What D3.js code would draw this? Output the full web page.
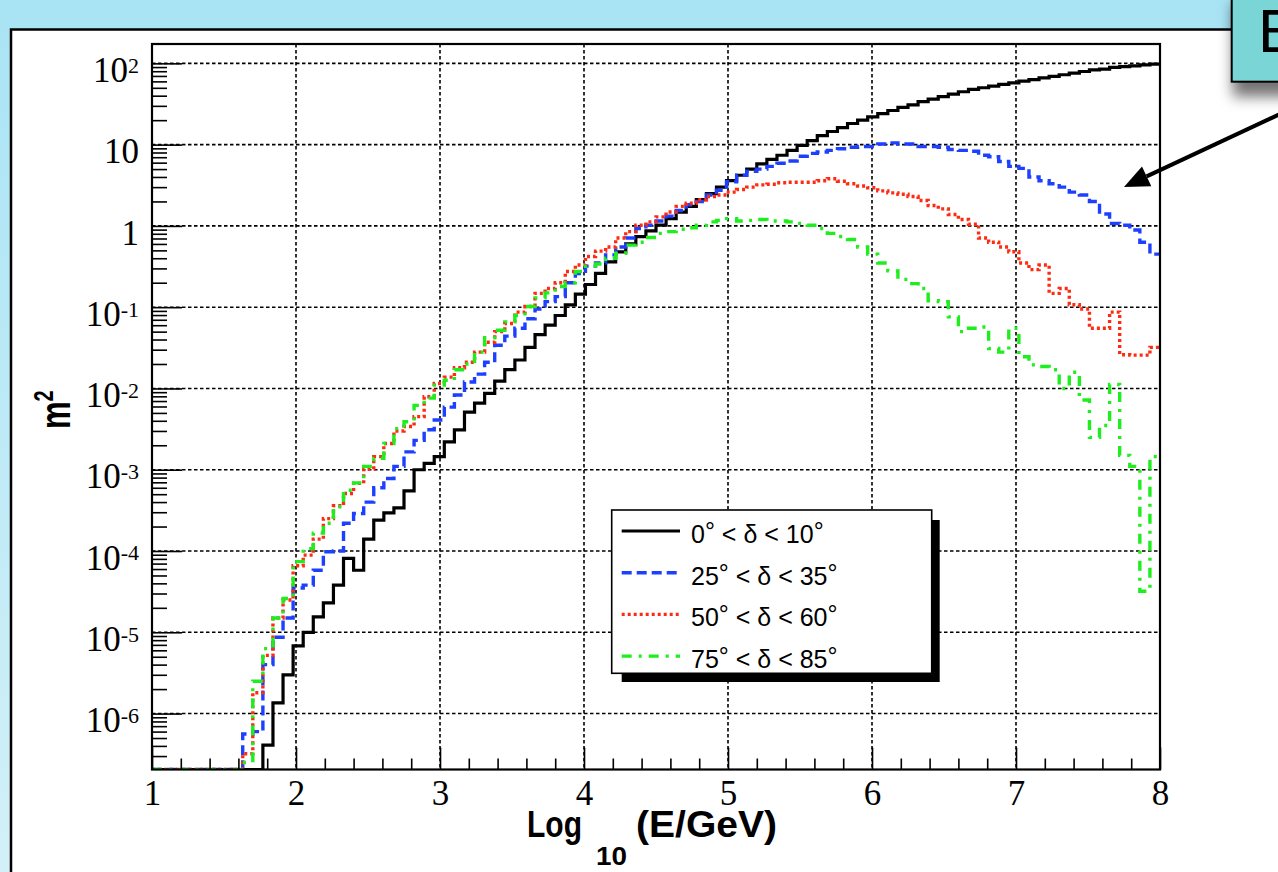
<!DOCTYPE html>
<html>
<head>
<meta charset="utf-8">
<script src="https://cdn.jsdelivr.net/npm/d3@7/dist/d3.min.js"></script>
<style>
html, body { margin: 0; padding: 0; background: #ffffff; overflow: hidden; }
svg { display: block; }
</style>
</head>
<body>
<svg id="chart" width="1278" height="872"></svg>
<script>
// Binning: 100 bins of 0.07 in log10(E/GeV), from 1 to 8
const binStart = 1;
const binWidth = 0.07;

// Effective area (m^2) per energy bin, one array per declination band
const areaDec0to10 = [
  0, 0, 0, 0, 0, 0, 0, 0, 0, 0,
  0, 4.1e-7, 1.35e-6, 3.0e-6, 6.8e-6, 1.0e-5, 1.55e-5, 2.3e-5, 3.8e-5, 8.1e-5,
  5.8e-5, 1.4e-4, 2.4e-4, 2.95e-4, 3.4e-4, 5.5e-4, 1.0e-3, 1.2e-3, 1.45e-3, 2.2e-3,
  3.1e-3, 5.1e-3, 6.6e-3, 8.7e-3, 1.23e-2, 1.7e-2, 2.24e-2, 3.2e-2, 4.6e-2, 6.0e-2,
  7.9e-2, 0.107, 0.145, 0.19, 0.26, 0.36, 0.48, 0.60, 0.74, 0.87,
  1.02, 1.23, 1.48, 1.74, 2.1, 2.5, 3.0, 3.6, 4.2, 5.0,
  5.8, 6.6, 7.4, 8.5, 9.8, 11.2, 12.9, 14.5, 16.2, 18.2,
  20.0, 21.9, 24.0, 26.3, 28.8, 30.9, 33.9, 36.3, 38.9, 41.7,
  44.7, 47.9, 50.1, 52.5, 55.0, 57.5, 60.3, 63.1, 66.1, 69.2,
  72.4, 75.9, 79.4, 83.2, 85.1, 89.1, 91.2, 93.3, 95.5, 97.7
];
const areaDec25to35 = [
  0, 0, 0, 0, 0, 0, 0, 0, 0, 5.6e-7,
  6.0e-7, 4.0e-6, 8.7e-6, 1.5e-5, 3.5e-5, 3.8e-5, 5.8e-5, 9.8e-5, 1.0e-4, 2.2e-4,
  2.9e-4, 4.0e-4, 6.0e-4, 7.8e-4, 1.1e-3, 1.66e-3, 2.3e-3, 3.1e-3, 4.1e-3, 5.9e-3,
  8.3e-3, 1.2e-2, 1.5e-2, 2.1e-2, 3.4e-2, 4.4e-2, 5.5e-2, 7.2e-2, 9.5e-2, 0.117,
  0.135, 0.20, 0.26, 0.32, 0.35, 0.44, 0.55, 0.71, 0.93, 1.02,
  1.15, 1.32, 1.55, 1.82, 2.0, 2.4, 2.75, 3.5, 4.2, 4.7,
  5.0, 5.4, 5.9, 6.3, 7.2, 7.8, 8.1, 8.5, 8.9, 9.3,
  9.5, 9.5, 10.2, 10.5, 10.2, 10.2, 9.5, 9.5, 9.3, 8.7,
  8.5, 8.3, 7.4, 7.1, 6.2, 5.4, 5.1, 4.0, 3.6, 3.3,
  3.0, 2.6, 2.4, 2.0, 1.4, 1.07, 1.02, 0.89, 0.63, 0.45
];
const areaDec50to60 = [
  0, 0, 0, 0, 0, 0, 0, 0, 0, 3.2e-7,
  1.8e-6, 5.2e-6, 1.5e-5, 2.5e-5, 6.6e-5, 8.9e-5, 1.4e-4, 2.5e-4, 3.6e-4, 5.1e-4,
  6.8e-4, 1.02e-3, 1.45e-3, 2.1e-3, 3.0e-3, 3.4e-3, 4.5e-3, 7.9e-3, 1.15e-2, 1.38e-2,
  1.8e-2, 2.1e-2, 2.8e-2, 3.7e-2, 5.0e-2, 6.3e-2, 8.7e-2, 0.102, 0.148, 0.17,
  0.20, 0.275, 0.33, 0.42, 0.49, 0.55, 0.71, 0.85, 1.02, 1.12,
  1.29, 1.48, 1.74, 1.9, 2.1, 2.3, 2.4, 2.6, 2.8, 3.0,
  3.2, 3.25, 3.4, 3.45, 3.45, 3.45, 3.6, 3.8, 3.55, 3.3,
  3.1, 2.95, 2.7, 2.55, 2.45, 2.3, 2.05, 1.78, 1.62, 1.38,
  1.2, 1.05, 0.71, 0.63, 0.55, 0.48, 0.35, 0.29, 0.33, 0.148,
  0.17, 0.107, 0.095, 0.055, 0.055, 0.087, 0.026, 0.0257, 0.0257, 0.032
];
const areaDec75to85 = [
  0, 0, 0, 0, 0, 0, 0, 0, 0, 2.5e-7,
  2.5e-6, 6.3e-6, 1.5e-5, 2.6e-5, 7.4e-5, 1.07e-4, 1.66e-4, 2.2e-4, 3.5e-4, 5.6e-4,
  6.9e-4, 1.1e-3, 1.38e-3, 2.1e-3, 3.2e-3, 3.9e-3, 6.2e-3, 7.6e-3, 1.1e-2, 1.26e-2,
  1.7e-2, 2.0e-2, 2.8e-2, 4.2e-2, 5.2e-2, 6.6e-2, 7.9e-2, 0.102, 0.13, 0.15,
  0.18, 0.20, 0.275, 0.32, 0.34, 0.40, 0.46, 0.58, 0.63, 0.72,
  0.81, 0.85, 0.91, 0.95, 1.02, 1.12, 1.17, 1.23, 1.15, 1.17,
  1.2, 1.15, 1.15, 1.12, 1.07, 1.02, 0.93, 0.81, 0.74, 0.68,
  0.55, 0.45, 0.35, 0.28, 0.22, 0.195, 0.17, 0.12, 0.117, 0.076,
  0.05, 0.055, 0.057, 0.031, 0.028, 0.055, 0.0245, 0.0195, 0.0186, 0.017,
  0.01, 0.0158, 0.0072, 0.0025, 0.0035, 0.0112, 0.0015, 0.0011, 3.2e-5, 0.00145
];

// Declination band edges (degrees), in legend order
const bandLow = [0, 25, 50, 75];
const bandHigh = [10, 35, 60, 85];

// Axis ticks
const xTickValues = [1, 2, 3, 4, 5, 6, 7, 8];
const yDecadeExponents = [-6, -5, -4, -3, -2, -1, 0, 1, 2];
const yExtent = [2.05e-7, 173];

const xTitleMain = "Log";
const xTitleSub = "10";
const xTitleUnit = "(E/GeV)";
const yTitleMain = "m";
const yTitleSup = "2";
const calloutText = "E";

// ---------------------------------------------------------------
const series = [areaDec0to10, areaDec25to35, areaDec50to60, areaDec75to85];
const lineStyles = [
  { color: "#000000", dash: null,        width: 3.2 },
  { color: "#1d40ff", dash: "10,5",      width: 3.4 },
  { color: "#ff2a12", dash: "3,3",       width: 3.4 },
  { color: "#1eee1e", dash: "10,7,3,7",  width: 3.4 }
];

const W = 1278, H = 872;
const frame = { left: 152, right: 1160, top: 44, bottom: 769.5 };
const serif = "'Liberation Serif', 'Times New Roman', serif";
const sans = "'Liberation Sans', Arial, Helvetica, sans-serif";

const svg = d3.select("#chart");
const defs = svg.append("defs");

const bgGrad = defs.append("linearGradient").attr("id", "bgGrad")
  .attr("x1", 0).attr("y1", 0).attr("x2", 0).attr("y2", 1);
bgGrad.append("stop").attr("offset", "0%").attr("stop-color", "#a9e4f4");
bgGrad.append("stop").attr("offset", "100%").attr("stop-color", "#d3f0f8");

const shadow = defs.append("filter").attr("id", "boxShadow")
  .attr("x", "-30%").attr("y", "-30%").attr("width", "160%").attr("height", "180%");
shadow.append("feDropShadow").attr("dx", 2).attr("dy", 14)
  .attr("stdDeviation", 7).attr("flood-color", "#000").attr("flood-opacity", 0.55);

defs.append("clipPath").attr("id", "plotClip").append("rect")
  .attr("x", frame.left).attr("y", frame.top)
  .attr("width", frame.right - frame.left).attr("height", frame.bottom - frame.top);

// page background and white panel
svg.append("rect").attr("width", W).attr("height", H).attr("fill", "url(#bgGrad)");
svg.append("rect").attr("x", 11).attr("y", 29.5).attr("width", 1400).attr("height", 1000)
  .attr("fill", "#ffffff").attr("stroke", "#000").attr("stroke-width", 2.5);

const x = d3.scaleLinear().domain([xTickValues[0], xTickValues[xTickValues.length - 1]])
  .range([frame.left, frame.right]);
const y = d3.scaleLog().domain(yExtent).range([frame.bottom, frame.top]);

const plot = svg.append("g");

// dotted grid
const gridStyle = sel => sel.attr("stroke", "#000").attr("stroke-width", 1.6)
  .attr("stroke-dasharray", "3.5,2.5").attr("fill", "none");
plot.append("g").selectAll("line").data(xTickValues.slice(1, -1)).join("line")
  .attr("x1", d => x(d)).attr("x2", d => x(d))
  .attr("y1", frame.top).attr("y2", frame.bottom).call(gridStyle);
plot.append("g").selectAll("line").data(yDecadeExponents).join("line")
  .attr("x1", frame.left).attr("x2", frame.right)
  .attr("y1", d => y(Math.pow(10, d))).attr("y2", d => y(Math.pow(10, d))).call(gridStyle);

// step histograms
const histLine = d3.line().x(d => x(d[0])).y(d => y(d[1]));
function stepPoints(vals) {
  const pts = [];
  vals.forEach((v, i) => {
    const lo = binStart + i * binWidth, hi = lo + binWidth;
    const yv = Math.max(v, yExtent[0]);
    pts.push([lo, yv], [hi, yv]);
  });
  return pts;
}
const histGroup = plot.append("g").attr("clip-path", "url(#plotClip)");
series.forEach((vals, k) => {
  const st = lineStyles[k];
  histGroup.append("path")
    .attr("d", histLine(stepPoints(vals)))
    .attr("fill", "none")
    .attr("stroke", st.color)
    .attr("stroke-width", st.width)
    .attr("stroke-linejoin", "miter")
    .attr("stroke-dasharray", st.dash);
});

// axes (ticks drawn inward)
const minorY = [];
for (let e = -7; e <= 2; e++) {
  for (let m = 2; m <= 9; m++) {
    const v = m * Math.pow(10, e);
    if (v >= yExtent[0] && v <= yExtent[1]) minorY.push(v);
  }
}
const minorX = d3.range(0, 36).map(i => 1 + i * 0.2).filter(v => Math.abs(v - Math.round(v)) > 1e-6);

function styleAxis(g) {
  g.select(".domain").remove();
  g.selectAll(".tick line").attr("stroke", "#000").attr("stroke-width", 1.6);
}

plot.append("g").attr("transform", `translate(${frame.left},0)`)
  .call(d3.axisLeft(y).tickValues(minorY).tickSize(-15).tickFormat(""))
  .call(styleAxis);

const yMajor = plot.append("g").attr("transform", `translate(${frame.left},0)`)
  .call(d3.axisLeft(y).tickValues(yDecadeExponents.map(e => Math.pow(10, e)))
    .tickSize(-30).tickPadding(13))
  .call(styleAxis);
yMajor.selectAll(".tick text")
  .attr("font-family", serif).attr("font-size", 35).attr("fill", "#000")
  .attr("dy", "0.52em")
  .each(function (d) {
    const e = Math.round(Math.log10(d));
    const t = d3.select(this).text(null);
    if (e === 0) { t.append("tspan").text("1"); return; }
    t.append("tspan").text("10");
    if (e !== 1) {
      t.append("tspan").attr("font-size", 22).attr("dy", "-0.42em").text(String(e));
    }
  });

plot.append("g").attr("transform", `translate(0,${frame.bottom})`)
  .call(d3.axisBottom(x).tickValues(minorX).tickSize(-11).tickFormat(""))
  .call(styleAxis);
plot.append("g").attr("transform", `translate(0,${frame.bottom})`)
  .call(d3.axisBottom(x).tickValues(xTickValues).tickSize(-22).tickPadding(11).tickFormat(d3.format("d")))
  .call(styleAxis)
  .call(g => g.selectAll(".tick text")
    .attr("font-family", serif).attr("font-size", 35).attr("fill", "#000"));

// frame
plot.append("rect").attr("x", frame.left).attr("y", frame.top)
  .attr("width", frame.right - frame.left).attr("height", frame.bottom - frame.top)
  .attr("fill", "none").attr("stroke", "#000").attr("stroke-width", 2.2);

// axis titles
const xt = svg.append("g").attr("font-family", sans).attr("font-weight", "bold").attr("fill", "#000");
xt.append("text").attr("x", 527).attr("y", 837)
  .attr("font-size", 37).attr("textLength", 55).attr("lengthAdjust", "spacingAndGlyphs")
  .text(xTitleMain);
xt.append("text").attr("x", 596).attr("y", 865)
  .attr("font-size", 25).attr("textLength", 31).attr("lengthAdjust", "spacingAndGlyphs")
  .text(xTitleSub);
xt.append("text").attr("x", 636).attr("y", 837)
  .attr("font-size", 37).attr("textLength", 141).attr("lengthAdjust", "spacingAndGlyphs")
  .text(xTitleUnit);

const yt = svg.append("text").attr("transform", "translate(70,429) rotate(-90) scale(1,1.4)")
  .attr("font-family", sans).attr("font-weight", "bold").attr("font-size", 31).attr("fill", "#000");
yt.append("tspan").text(yTitleMain);
yt.append("tspan").attr("font-size", 20).attr("dy", "-0.6em").text(yTitleSup);

// legend
const leg = { x0: 611.7, y0: 510, x1: 931.7, y1: 673.3 };
svg.append("rect").attr("x", leg.x0 + 10).attr("y", leg.y0 + 10)
  .attr("width", leg.x1 - leg.x0 - 2).attr("height", leg.y1 - leg.y0 - 1.3).attr("fill", "#000");
svg.append("rect").attr("x", leg.x0).attr("y", leg.y0)
  .attr("width", leg.x1 - leg.x0).attr("height", leg.y1 - leg.y0)
  .attr("fill", "#fff").attr("stroke", "#000").attr("stroke-width", 1.6);
const rowStep = 41.7;
bandLow.forEach((lo, k) => {
  const base = 543 + k * rowStep;
  const st = lineStyles[k];
  svg.append("line").attr("x1", 621.7).attr("x2", 680).attr("y1", base - 12).attr("y2", base - 12)
    .attr("stroke", st.color).attr("stroke-width", st.width).attr("stroke-dasharray", st.dash);
  const t = svg.append("text").attr("x", 691).attr("y", base)
    .attr("font-family", sans).attr("font-size", 25).attr("fill", "#000");
  t.append("tspan").text(String(lo));
  t.append("tspan").attr("dy", -3).text("°");
  t.append("tspan").attr("dy", 3).text(" < δ < " + bandHigh[k]);
  t.append("tspan").attr("dy", -3).text("°");
});

// callout box and arrow
svg.append("rect").attr("x", 1231.7).attr("y", -10).attr("width", 80).attr("height", 91.7)
  .attr("fill", "#79d5d6").attr("stroke", "#000").attr("stroke-width", 2)
  .attr("filter", "url(#boxShadow)");
svg.append("text").attr("x", 1258).attr("y", 52).attr("font-family", sans)
  .attr("font-size", 61).attr("fill", "#000").text(calloutText);

const tip = [1124, 187], tail = [1295, 107];
const len = Math.hypot(tail[0] - tip[0], tail[1] - tip[1]);
const ux = (tail[0] - tip[0]) / len, uy = (tail[1] - tip[1]) / len;
const headLen = 25, headHalf = 11;
const bx = tip[0] + ux * headLen, by = tip[1] + uy * headLen;
svg.append("line").attr("x1", tail[0]).attr("y1", tail[1]).attr("x2", bx).attr("y2", by)
  .attr("stroke", "#000").attr("stroke-width", 4);
svg.append("polygon").attr("fill", "#000").attr("points", [
  tip,
  [bx - uy * headHalf, by + ux * headHalf],
  [bx + uy * headHalf, by - ux * headHalf]
].map(p => p.join(",")).join(" "));
</script>
</body>
</html>
